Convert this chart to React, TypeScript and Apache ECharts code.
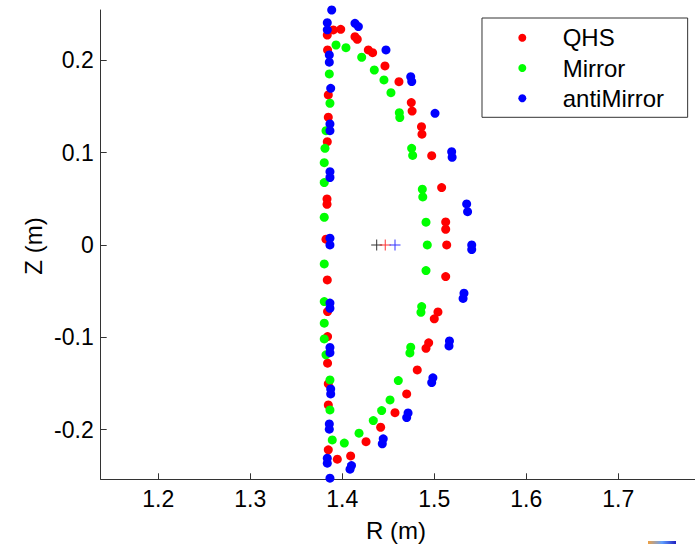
import React, { useEffect, useRef } from "react";
import * as echarts from "echarts";

const FONT = "'Liberation Sans', Arial, Helvetica, sans-serif";

const seriesNames = ["QHS", "Mirror", "antiMirror"];
const seriesColors = ["#ff0000", "#00ff00", "#0000ff"];

// [R (m), Z (m)]
const qhsPoints: [number, number][] = [
  [1.3837, 0.2274], [1.3902, 0.2329], [1.3983, 0.2336], [1.4138, 0.2256], [1.4163, 0.2228],
  [1.4283, 0.2112], [1.433, 0.2083], [1.4464, 0.1939], [1.4616, 0.1769], [1.475, 0.1542],
  [1.4759, 0.145], [1.4861, 0.1281], [1.4866, 0.12], [1.4972, 0.0967], [1.508, 0.0621],
  [1.5124, 0.0249], [1.5124, 0.017], [1.5135, 0.0], [1.5124, -0.0343], [1.504, -0.0726],
  [1.5, -0.08], [1.4939, -0.1061], [1.491, -0.112], [1.4815, -0.1354], [1.47, -0.1614],
  [1.4573, -0.1817], [1.4417, -0.1975], [1.4258, -0.2131], [1.4091, -0.2286], [1.3946, -0.2321],
  [1.384, 0.2112], [1.3848, 0.1625], [1.3848, 0.1383], [1.3837, 0.1119], [1.3834, 0.0498],
  [1.3834, 0.044], [1.3823, 0.0062], [1.3837, -0.0379], [1.384, -0.0722], [1.384, -0.0993],
  [1.384, -0.1281], [1.3848, -0.1505], [1.3848, -0.1733], [1.3848, -0.222],
];

const mirrorPoints: [number, number][] = [
  [1.3932, 0.2166], [1.404, 0.2137], [1.4211, 0.2033], [1.4348, 0.1895], [1.4453, 0.1787],
  [1.4529, 0.1649], [1.462, 0.1433], [1.4625, 0.138], [1.4754, 0.1047], [1.4765, 0.097],
  [1.487, 0.0603], [1.4875, 0.052], [1.491, 0.0246], [1.4924, 0.0], [1.491, -0.0278],
  [1.4863, -0.0668], [1.4855, -0.073], [1.4744, -0.1108], [1.4735, -0.117], [1.4609, -0.147],
  [1.4519, -0.1679], [1.4428, -0.1795], [1.4337, -0.1903], [1.4182, -0.2039], [1.4022, -0.2147],
  [1.3891, -0.2112], [1.3859, 0.1852], [1.3866, 0.1535], [1.3823, 0.1238], [1.3812, 0.1047],
  [1.3804, 0.0891], [1.3804, 0.0675], [1.3804, 0.03], [1.3804, -0.0206], [1.3804, -0.0614],
  [1.3804, -0.0848], [1.3804, -0.1018], [1.3823, -0.119], [1.3866, -0.1462], [1.3866, -0.1787],
];

const antiMirrorPoints: [number, number][] = [
  [1.3885, 0.2545], [1.3837, 0.2407], [1.3837, 0.233], [1.4138, 0.2401], [1.4175, 0.2365],
  [1.4475, 0.2112], [1.3859, 0.2058], [1.3859, 0.198], [1.4744, 0.1823], [1.4755, 0.177],
  [1.3874, 0.1697], [1.5008, 0.1426], [1.3866, 0.1238], [1.3866, 0.131], [1.5189, 0.101],
  [1.5194, 0.095], [1.3866, 0.0794], [1.3866, 0.073], [1.5352, 0.0444], [1.5362, 0.036],
  [1.3866, 0.0073], [1.3866, 0.0], [1.5407, 0.0], [1.5407, -0.005], [1.5323, -0.0523],
  [1.5313, -0.058], [1.516, -0.1094], [1.5165, -0.104], [1.4972, -0.1491], [1.4985, -0.144],
  [1.47, -0.187], [1.4715, -0.182], [1.4435, -0.2155], [1.4445, -0.21], [1.4084, -0.2429],
  [1.41, -0.239], [1.3866, -0.0686], [1.3866, -0.063], [1.3866, -0.1167], [1.3866, -0.111],
  [1.3874, -0.1614], [1.3874, -0.156], [1.3859, -0.1996], [1.3859, -0.194], [1.3837, -0.2364],
  [1.3837, -0.231], [1.3866, -0.2527],
];

const centerR = [1.4374, 1.4467, 1.4573];
const centerZ = [0, 0, 0];
const centerColors = ["#000000", "#ff0000", "#0000ff"];

const xTicks = [1.2, 1.3, 1.4, 1.5, 1.6, 1.7];
const yTicks = [-0.2, -0.1, 0, 0.1, 0.2];
const xRange = [1.1374, 1.7834];
const yRange = [-0.2539, 0.2545];

const CROSS = "path://M0,5h11v1H0zM5,0h1v11H5z";

export default function App() {
  const ref = useRef<HTMLDivElement>(null);
  useEffect(() => {
    if (!ref.current) return;
    const chart = echarts.init(ref.current, undefined, { renderer: "svg" });
    const pointSets = [qhsPoints, mirrorPoints, antiMirrorPoints];
    chart.setOption({
      animation: false,
      backgroundColor: "#ffffff",
      textStyle: { fontFamily: FONT },
      grid: { left: 100.7, top: 10, right: 0, bottom: 64.7, containLabel: false },
      xAxis: {
        type: "value",
        min: xRange[0],
        max: xRange[1],
        splitLine: { show: false },
        axisLine: { show: true, onZero: false, lineStyle: { color: "#333333", width: 1 } },
        axisTick: { show: true, inside: true, length: 6, customValues: xTicks, lineStyle: { color: "#333333" } },
        axisLabel: {
          customValues: xTicks,
          formatter: (v: number) => v.toFixed(1),
          fontSize: 23,
          color: "#000",
          fontFamily: FONT,
          margin: 8,
        },
      },
      yAxis: {
        type: "value",
        min: yRange[0],
        max: yRange[1],
        splitLine: { show: false },
        axisLine: { show: true, onZero: false, lineStyle: { color: "#333333", width: 1 } },
        axisTick: { show: true, inside: true, length: 6, customValues: yTicks, lineStyle: { color: "#333333" } },
        axisLabel: {
          customValues: yTicks,
          formatter: (v: number) => (Math.abs(v) < 1e-9 ? "0" : v.toFixed(1)),
          fontSize: 23,
          color: "#000",
          fontFamily: FONT,
          margin: 7,
        },
      },
      legend: {
        orient: "vertical",
        left: 482,
        top: 18,
        data: seriesNames,
        icon: "circle",
        itemWidth: 8,
        itemHeight: 8,
        itemGap: 6.3,
        padding: [7.7, 23.6, 7, 36.3],
        borderColor: "#333333",
        borderWidth: 1,
        backgroundColor: "#ffffff",
        textStyle: { fontSize: 24, lineHeight: 24, color: "#000", fontFamily: FONT, padding: [0, 0, 0, 31.4] },
      },
      graphic: [
        {
          type: "text",
          x: 396,
          y: 530,
          style: { text: "R (m)", fill: "#000", font: `24px ${FONT}`, align: "center", verticalAlign: "middle" },
        },
        {
          type: "text",
          x: 33,
          y: 246,
          rotation: Math.PI / 2,
          style: { text: "Z (m)", fill: "#000", font: `24px ${FONT}`, align: "center", verticalAlign: "middle" },
        },
        {
          type: "rect",
          shape: { x: 648, y: 541, width: 28, height: 3 },
          style: {
            fill: new echarts.graphic.LinearGradient(0, 0, 1, 0, [
              { offset: 0, color: "#f0a040" },
              { offset: 0.5, color: "#60a0ff" },
              { offset: 1, color: "#2020c0" },
            ]),
          },
        },
      ],
      series: [
        ...seriesNames.map((name, i) => ({
          type: "scatter",
          name,
          data: pointSets[i],
          symbol: "circle",
          symbolSize: 9,
          itemStyle: { color: seriesColors[i], opacity: 1 },
          z: 2 + i,
        })),
        {
          type: "scatter",
          name: "centers",
          data: centerR.map((r, i) => ({ value: [r, centerZ[i]], itemStyle: { color: centerColors[i] } })),
          symbol: CROSS,
          symbolSize: 11,
          z: 10,
        },
      ],
    });
    return () => chart.dispose();
  }, []);
  return (
    <div
      ref={ref}
      style={{ position: "fixed", left: 0, top: 0, width: 695, height: 544, background: "#fff" }}
    />
  );
}
